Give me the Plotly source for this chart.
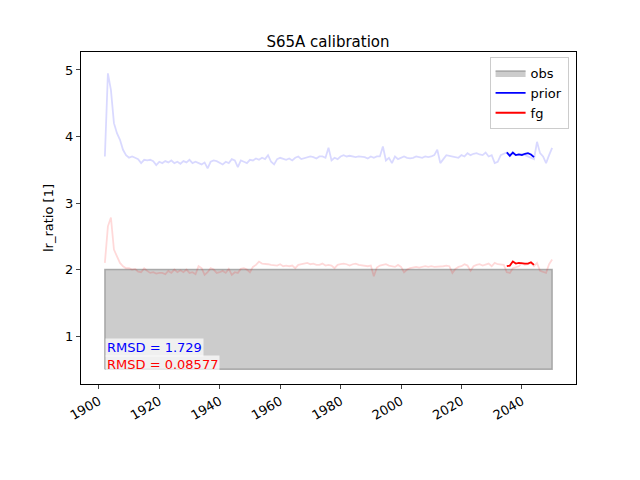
import plotly.graph_objects as go

years = list(range(1902, 2051))

prior_all = [
    3.70, 4.95, 4.70, 4.20, 4.05, 3.95, 3.80, 3.72, 3.68, 3.70,
    3.68, 3.66, 3.60, 3.65, 3.64, 3.65, 3.63, 3.57, 3.62, 3.60,
    3.63, 3.61, 3.64, 3.60, 3.62, 3.59, 3.63, 3.61, 3.65, 3.60,
    3.62, 3.60, 3.58, 3.61, 3.52, 3.62, 3.64, 3.63, 3.60, 3.58,
    3.62, 3.60, 3.66, 3.64, 3.54, 3.64, 3.62, 3.60, 3.65, 3.64,
    3.67, 3.65, 3.68, 3.66, 3.72, 3.62, 3.58, 3.66, 3.68, 3.66,
    3.65, 3.67, 3.64, 3.68, 3.70, 3.66, 3.67, 3.68, 3.70, 3.69,
    3.67, 3.70, 3.70, 3.68, 3.83, 3.64, 3.68, 3.66, 3.70, 3.72,
    3.70, 3.71, 3.70, 3.69, 3.70, 3.70, 3.69, 3.67, 3.70, 3.68,
    3.70, 3.70, 3.85, 3.64, 3.68, 3.60, 3.70, 3.66, 3.68, 3.70,
    3.68, 3.67, 3.68, 3.70, 3.69, 3.68, 3.70, 3.69, 3.70, 3.72,
    3.80, 3.60, 3.66, 3.72, 3.71, 3.70, 3.69, 3.68, 3.72, 3.70,
    3.75, 3.72, 3.74, 3.75, 3.73, 3.72, 3.76, 3.70, 3.72, 3.60,
    3.62, 3.72, 3.74, 3.76, 3.73, 3.74, 3.72, 3.73, 3.74, 3.72,
    3.70, 3.68, 3.66, 3.92, 3.75, 3.70, 3.60, 3.72, 3.83,
]

fg_all = [
    2.10, 2.65, 2.78, 2.30, 2.20, 2.10, 2.05, 2.02, 2.02, 2.00,
    2.01, 1.97, 1.96, 2.02, 1.98, 1.95, 1.96, 1.94, 1.95, 1.95,
    1.93, 1.98, 1.95, 2.00, 1.96, 1.99, 1.96, 2.00, 1.95, 1.96,
    1.93, 2.05, 2.02, 1.92, 1.96, 2.02, 2.00, 1.95, 1.96, 1.98,
    1.95, 2.01, 1.92, 1.96, 1.95, 2.01, 2.02, 2.00, 1.96, 2.04,
    2.07, 2.12, 2.09, 2.09, 2.08, 2.07, 2.07, 2.06, 2.08, 2.05,
    2.06, 2.05, 2.06, 2.02, 2.07, 2.08, 2.09, 2.10, 2.08, 2.09,
    2.07, 2.07, 2.09, 2.06, 2.07, 2.06, 2.02, 2.07, 2.08, 2.09,
    2.08, 2.06, 2.08, 2.09, 2.07, 2.06, 2.05, 2.05, 2.06, 1.90,
    2.03, 2.06, 2.07, 2.08, 2.06, 2.05, 2.04, 2.07, 2.04, 1.96,
    2.00, 2.02, 2.03, 2.04, 2.03, 2.04, 2.05, 2.04, 2.05, 2.04,
    2.04, 2.05, 2.05, 2.06, 2.05, 1.95, 2.01, 2.04, 2.05, 2.08,
    2.06, 1.98, 2.05, 2.07, 2.08, 2.06, 2.08, 2.09, 2.05, 2.10,
    2.08, 2.08, 2.07, 1.96, 1.95, 2.02, 2.04, 2.05, 2.10, 2.07,
    2.08, 2.10, 2.05, 2.10, 1.98, 1.96, 1.95, 2.08, 2.15,
]

cal_years = list(range(2035, 2045))
prior_cal = [3.76, 3.71, 3.76, 3.72, 3.73, 3.72, 3.74, 3.75, 3.73, 3.69]
fg_cal = [2.05, 2.06, 2.12, 2.09, 2.10, 2.09, 2.09, 2.09, 2.11, 2.07]

obs_x = [1902, 2050]
obs_lo = 0.5
obs_hi = 2.0

fig = go.Figure()

fig.add_trace(go.Scatter(
    x=[obs_x[0], obs_x[1], obs_x[1], obs_x[0], obs_x[0]],
    y=[obs_lo, obs_lo, obs_hi, obs_hi, obs_lo],
    fill='toself', fillcolor='rgba(128,128,128,0.4)',
    line=dict(color='rgba(128,128,128,0.6)', width=1.5),
    mode='lines', name='obs', hoverinfo='skip'
))
fig.add_trace(go.Scatter(x=years, y=prior_all, mode='lines',
                         line=dict(color='rgba(0,0,255,0.15)', width=1.8),
                         showlegend=False))
fig.add_trace(go.Scatter(x=years, y=fg_all, mode='lines',
                         line=dict(color='rgba(255,0,0,0.15)', width=1.8),
                         showlegend=False))
fig.add_trace(go.Scatter(x=cal_years, y=prior_cal, mode='lines',
                         line=dict(color='blue', width=1.8), name='prior'))
fig.add_trace(go.Scatter(x=cal_years, y=fg_cal, mode='lines',
                         line=dict(color='red', width=1.8), name='fg'))

for txt, col, yy in [('RMSD = 1.729', 'blue', 0.83), ('RMSD = 0.08577', 'red', 0.58)]:
    fig.add_annotation(x=1902, y=yy, text=txt, showarrow=False, xanchor='left',
                       font=dict(color=col, size=13),
                       bgcolor='rgba(255,255,255,0.7)', borderpad=1)

# page body has an 8px margin, so shift the plot area back by 8px
fig.update_layout(
    width=640, height=480,
    title=dict(text='S65A calibration', x=0.5, y=0.94, xanchor='center',
               font=dict(size=15, color='black')),
    plot_bgcolor='white', paper_bgcolor='white',
    font=dict(family='DejaVu Sans', size=13, color='black'),
    margin=dict(l=73, r=72, t=44, b=104, autoexpand=False),
    legend=dict(x=0.985, y=0.985, xanchor='right', yanchor='top',
                bordercolor='#cccccc', borderwidth=1, bgcolor='white',
                font=dict(size=13), tracegroupgap=0),
)
fig.update_xaxes(range=[1894.1, 2057.9], tickvals=list(range(1900, 2041, 20)),
                 tickangle=-30, showgrid=False, zeroline=False, automargin=False,
                 showline=True, linecolor='black', mirror=True,
                 ticks='outside', ticklen=4)
fig.update_yaxes(range=[0.28, 5.27], tickvals=[1, 2, 3, 4, 5], automargin=False,
                 title=dict(text='lr_ratio [1]', font=dict(size=13), standoff=8),
                 showgrid=False, zeroline=False,
                 showline=True, linecolor='black', mirror=True,
                 ticks='outside', ticklen=4)

fig.write_html('out.html')
